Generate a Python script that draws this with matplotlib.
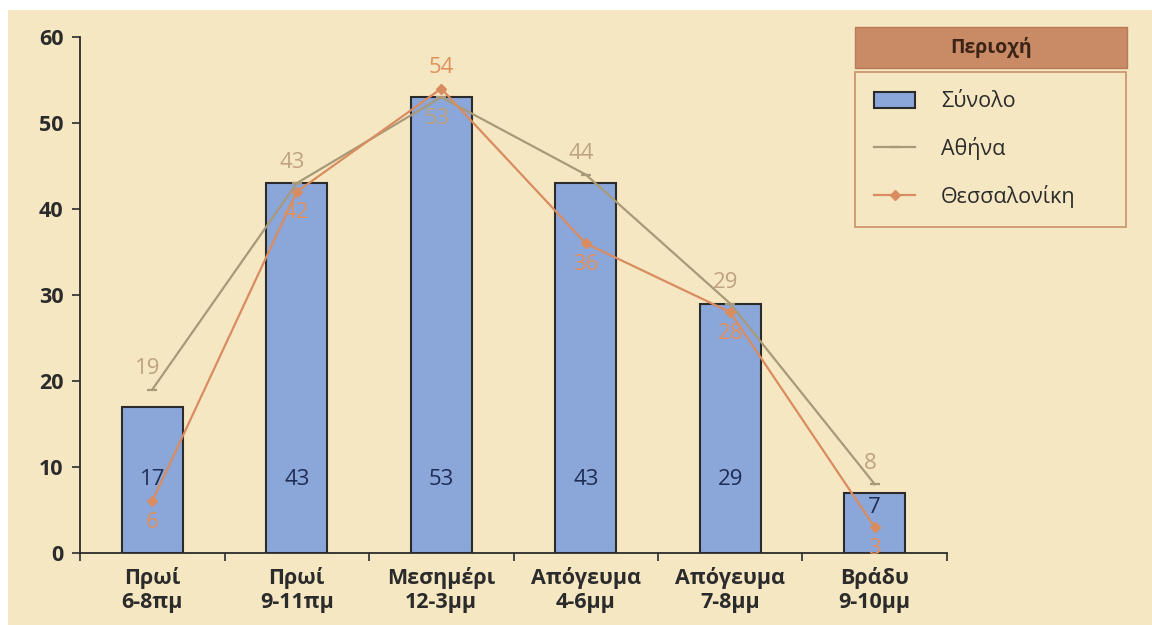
import numpy as np
import matplotlib
matplotlib.use("Agg")
import matplotlib.pyplot as plt
from matplotlib.patches import Rectangle

plt.rcParams['font.family'] = ['Open Sans', 'DejaVu Sans']

# time slots and shares per region
categories = ["Πρωί\n6-8πμ", "Πρωί\n9-11πμ", "Μεσημέρι\n12-3μμ",
              "Απόγευμα\n4-6μμ", "Απόγευμα\n7-8μμ", "Βράδυ\n9-10μμ"]
total = [17, 43, 53, 43, 29, 7]
athens = [19, 43, 53, 44, 29, 8]
thessaloniki = [6, 42, 54, 36, 28, 3]
series_names = ["Σύνολο", "Αθήνα", "Θεσσαλονίκη"]
legend_title = "Περιοχή"
yticks = [0, 10, 20, 30, 40, 50, 60]

W, H = 1152, 625
cream = '#f6e7c3'
bar_col = '#8ba6d9'
ath_col = '#a89a78'
ath_txt = '#bfa27e'
thes_col = '#d98c5f'
thes_txt = '#e0905c'
dark = '#2b2b2b'

fig = plt.figure(figsize=(W / 100, H / 100), dpi=100)
fig.patch.set_facecolor('white')
fig.patches.append(Rectangle((8 / W, 0), 1, 1 - 10 / H, transform=fig.transFigure,
                             facecolor=cream, edgecolor='none', zorder=-10))

ax = fig.add_axes([80 / W, 1 - 553 / H, 867 / W, 516 / H])
ax.set_facecolor('none')
x = np.arange(len(categories))

bars = ax.bar(x, total, width=0.42, color=bar_col, edgecolor=dark, linewidth=1.5,
              zorder=2, label=series_names[0])
l_ath, = ax.plot(x, athens, color=ath_col, lw=1.6, marker='_', ms=7, mew=1.6,
                 zorder=3, label=series_names[1])
l_thes, = ax.plot(x, thessaloniki, color=thes_col, lw=1.6, marker='D', ms=5,
                  zorder=4, label=series_names[2])

# values inside the bars, near the base
for xi, v in zip(x, total):
    ax.text(xi, min(8.5, v - 1.7), str(v), ha='center', va='center',
            fontsize=16, color='#1f2d55', zorder=5)

# line labels: the higher series goes above, the lower one below
for xi, a, t in zip(x, athens, thessaloniki):
    da = 15 if a >= t else -15
    ax.annotate(str(a), (xi, a), xytext=(-3, da), textcoords='offset points',
                ha='center', va='center', fontsize=16, color=ath_txt, zorder=6)
    ax.annotate(str(t), (xi, t), xytext=(0, -da), textcoords='offset points',
                ha='center', va='center', fontsize=16, color=thes_txt, zorder=6)

ax.set_xlim(-0.5, len(categories) - 0.5)
ax.set_ylim(0, 60)
ax.set_yticks(yticks)
ax.set_xticks(x, categories)
ax.set_xticks(np.arange(-0.5, len(categories), 1), minor=True)
ax.tick_params(axis='x', which='major', length=0, pad=10)
ax.tick_params(axis='x', which='minor', length=6, width=1.2, color=dark, direction='out')
ax.tick_params(axis='y', length=6, width=1.2, color=dark, direction='out', pad=6)
for lbl in ax.get_xticklabels() + ax.get_yticklabels():
    lbl.set_fontweight('bold')
    lbl.set_fontsize(15.5)
    lbl.set_color(dark)
for s in ['top', 'right']:
    ax.spines[s].set_visible(False)
for s in ['left', 'bottom']:
    ax.spines[s].set_color(dark)
    ax.spines[s].set_linewidth(1.3)

# legend header box
fig.patches.append(Rectangle((855 / W, 1 - 68 / H), 272 / W, 41 / H,
                             transform=fig.transFigure, facecolor='#c98a66',
                             edgecolor='#b87a58', lw=1))
fig.text(991 / W, 1 - 48 / H, legend_title, ha='center', va='center',
         fontsize=14, fontweight='bold', color='#3b2316')

leg = fig.legend(handles=[bars, l_ath, l_thes], loc='upper left',
                 bbox_to_anchor=(855 / W, 1 - 220 / H, 271 / W, 148 / H),
                 mode='expand', fontsize=15.5, frameon=True, fancybox=False,
                 facecolor=cream, edgecolor='#c9906a', framealpha=1,
                 handlelength=1.9, handleheight=0.75, handletextpad=1.2,
                 borderpad=0.9, labelspacing=1.15, borderaxespad=0)
leg.get_frame().set_linewidth(1.2)
for t in leg.get_texts():
    t.set_color(dark)

fig.savefig('out.png', dpi=100, facecolor=fig.get_facecolor())
